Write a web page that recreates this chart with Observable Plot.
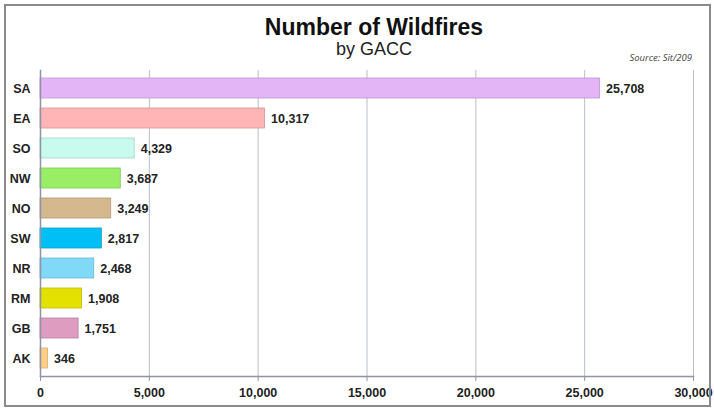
<!DOCTYPE html>
<html>
<head>
<meta charset="utf-8">
<script src="https://cdn.jsdelivr.net/npm/d3@7"></script>
<script src="https://cdn.jsdelivr.net/npm/@observablehq/plot@0.6"></script>
<style>
  body { margin: 0; background: #fff; font-family: "Liberation Sans", Arial, sans-serif; }
  #wrap { position: relative; width: 714px; height: 411px; overflow: hidden; }
  #frame { position: absolute; left: 4px; top: 4px; width: 707px; height: 403px; border: 2px solid #8a8a8a; box-sizing: border-box; pointer-events: none; }
  #title { position: absolute; left: 0; width: 748px; top: 14px; text-align: center; font-weight: bold; font-size: 23px; color: #111; }
  #subtitle { position: absolute; left: 0; width: 748px; top: 39px; text-align: center; font-size: 18px; color: #222; }
  #source { position: absolute; right: 22px; top: 51px; font-style: italic; font-size: 9.5px; color: #444; font-family: "Open Sans", sans-serif; }
  #chart { position: absolute; left: 0; top: 0; }
</style>
</head>
<body>
<div id="wrap">
  <div id="chart"></div>
  <div id="frame"></div>
  <div id="title">Number of Wildfires</div>
  <div id="subtitle">by GACC</div>
  <div id="source">Source: Sit/209</div>
</div>
<script>
const regions = ["SA", "EA", "SO", "NW", "NO", "SW", "NR", "RM", "GB", "AK"];
const fires = [25708, 10317, 4329, 3687, 3249, 2817, 2468, 1908, 1751, 346];
const barColors = ["#e3b5f7", "#ffb5b5", "#c8fbee", "#99ee66", "#d4b88e", "#00bff5", "#7fd9f7", "#e4e000", "#dd9cc0", "#ffcf85"];
const xTicks = [0, 5000, 10000, 15000, 20000, 25000, 30000];

const data = regions.map((r, i) => ({
  region: r,
  value: fires[i],
  color: barColors[i],
  edge: d3.color(barColors[i]).darker(0.5).formatHex()
}));
const fmt = d3.format(",");

const chart = Plot.plot({
  width: 714,
  height: 411,
  marginLeft: 40,
  marginRight: 21,
  marginTop: 70,
  marginBottom: 35,
  style: {fontFamily: "Liberation Sans, Arial, sans-serif", background: "transparent"},
  x: {domain: [0, 30000], ticks: xTicks, tickFormat: fmt, label: null},
  y: {domain: regions, label: null, paddingInner: 0.35, paddingOuter: 0.15},
  color: {type: "identity"},
  marks: [
    Plot.gridX(xTicks, {stroke: "#b9bdcc", strokeOpacity: 1, strokeWidth: 1}),
    Plot.barX(data, {y: "region", x: "value", fill: d => d.color, stroke: d => d.edge, strokeWidth: 0.8}),
    Plot.text(data, {y: "region", x: "value", text: d => fmt(d.value), textAnchor: "start", dx: 6, fontWeight: "bold", fontSize: 12.5, fill: "#222"}),
    Plot.frame({anchor: "bottom", stroke: "#8e93a8", strokeWidth: 1.5}),
    Plot.frame({anchor: "left", stroke: "#8e93a8", strokeWidth: 1.5}),
    Plot.axisX(xTicks, {tickFormat: fmt, tickSize: 5, tickPadding: 7, fontWeight: "bold", fontSize: 12.5, fill: "#222", stroke: "#8e93a8"}),
    Plot.axisY({tickSize: 0, tickPadding: 10, fontWeight: "bold", fontSize: 12.5, fill: "#222"})
  ]
});
document.getElementById("chart").appendChild(chart);
</script>
</body>
</html>
